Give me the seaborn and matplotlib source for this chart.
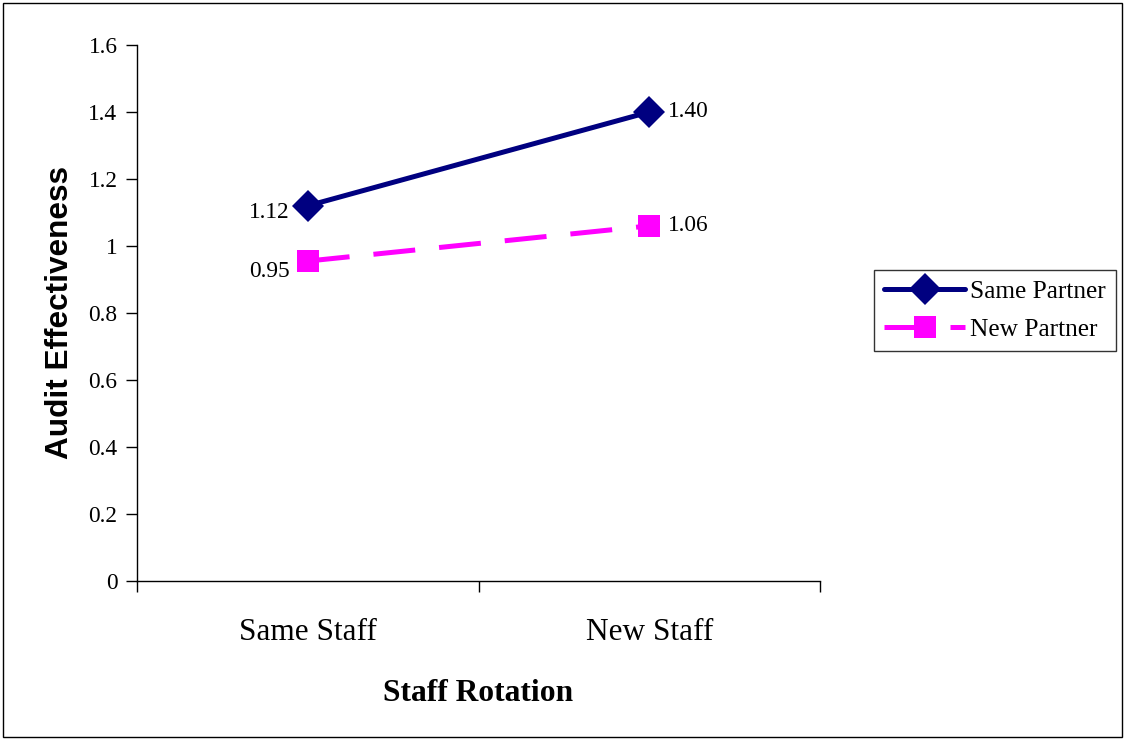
import pandas as pd
import matplotlib
matplotlib.use('Agg')
import matplotlib.pyplot as plt
import seaborn as sns
from matplotlib.patches import Rectangle

# data
staff_levels = ['Same Staff', 'New Staff']
staff_pos = [0.5, 1.5]
same_partner = [1.12, 1.40]
new_partner = [0.955, 1.06]
series_names = ['Same Partner', 'New Partner']
y_ticks = [0, 0.2, 0.4, 0.6, 0.8, 1, 1.2, 1.4, 1.6]

df = pd.DataFrame({
    'pos': staff_pos * 2,
    'effectiveness': same_partner + new_partner,
    'partner': [series_names[0]] * 2 + [series_names[1]] * 2,
})

sns.set_style('white')
plt.rcParams['font.family'] = ['Liberation Serif', 'DejaVu Serif']
plt.rcParams['text.color'] = 'black'
plt.rcParams['xtick.color'] = 'black'
plt.rcParams['ytick.color'] = 'black'
plt.rcParams['axes.labelcolor'] = 'black'

fig = plt.figure(figsize=(11.25, 7.4), dpi=100)
ax = fig.add_axes([0.1218, 0.2149, 0.6071, 0.7243])

colors = {'Same Partner': '#000080', 'New Partner': '#FF00FF'}
ax = sns.lineplot(
    data=df, x='pos', y='effectiveness', hue='partner', style='partner',
    palette=colors, dashes={'Same Partner': '', 'New Partner': (8.4, 4.8)},
    markers={'Same Partner': 'D', 'New Partner': 's'},
    markersize=16, linewidth=3.6, markeredgewidth=0, ax=ax,
)

# value labels (shown with two decimals as in the original)
lab_size = 16.8
ax.text(staff_pos[0] - 0.054, same_partner[0] - 0.02, f'{same_partner[0]:.2f}',
        ha='right', va='center', fontsize=lab_size)
ax.text(staff_pos[1] + 0.055, same_partner[1], f'{same_partner[1]:.2f}',
        ha='left', va='center', fontsize=lab_size)
ax.text(staff_pos[0] - 0.054, new_partner[0] - 0.03, '0.95',
        ha='right', va='center', fontsize=lab_size)
ax.text(staff_pos[1] + 0.055, new_partner[1], f'{new_partner[1]:.2f}',
        ha='left', va='center', fontsize=lab_size)

ax.set_xlim(0, 2)
ax.set_ylim(0, 1.6)
ax.set_yticks(y_ticks)
ax.set_yticklabels([f'{v:g}' for v in y_ticks], fontsize=16.8)
ax.set_xticks([0, 1, 2])
ax.set_xticklabels([])
ax.set_xticks(staff_pos, minor=True)
ax.set_xticklabels(staff_levels, minor=True, fontsize=22.5)
ax.tick_params(axis='x', which='minor', length=0, pad=27)
ax.tick_params(axis='both', which='major', direction='out', length=8,
               width=1, color='black', left=True, bottom=True)
ax.tick_params(axis='y', pad=6)

for side in ['top', 'right']:
    ax.spines[side].set_visible(False)
for side in ['left', 'bottom']:
    ax.spines[side].set_color('black')
    ax.spines[side].set_linewidth(1)

ax.set_xlabel('Staff Rotation', fontsize=22.7, fontweight='bold', labelpad=23)
ax.set_ylabel('Audit Effectiveness', fontsize=22.7, fontweight='bold',
              family=['Liberation Sans', 'DejaVu Sans'], labelpad=10)

leg = ax.legend(loc='center left', bbox_to_anchor=(1.06, 0.504), fontsize=18.3,
                frameon=True, fancybox=False, edgecolor='black',
                handlelength=3.2, borderpad=0.4, labelspacing=0.6,
                handletextpad=0.2, title=None)
leg.get_frame().set_linewidth(1)

# outer frame around the whole chart
fig.patches.append(Rectangle((0.003, 0.004), 0.994, 0.992, transform=fig.transFigure,
                             fill=False, edgecolor='black', linewidth=1))

plt.savefig('out.png', dpi=100)
